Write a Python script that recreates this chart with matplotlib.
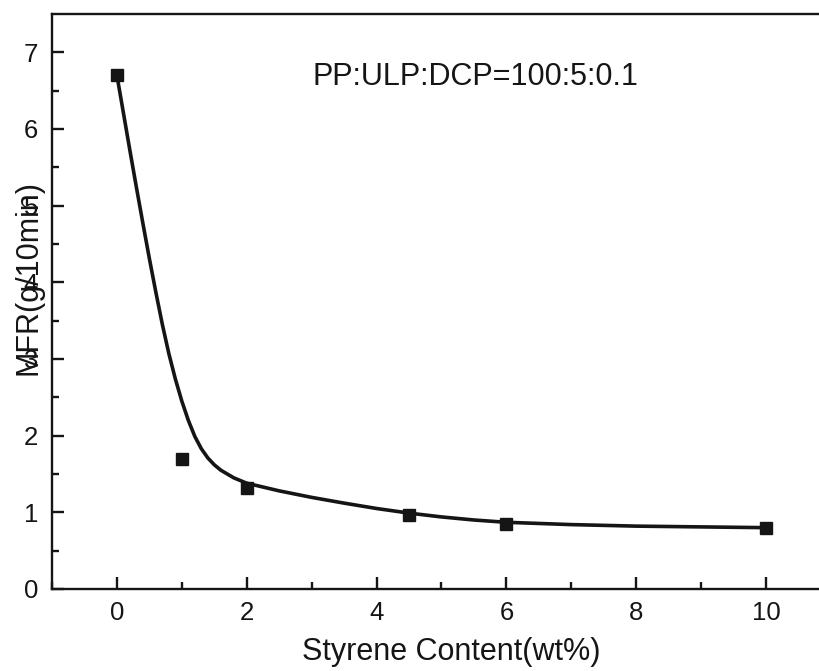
import matplotlib.pyplot as plt

plt.rcParams['font.family'] = ['Liberation Sans', 'DejaVu Sans']

# measured points
styrene = [0, 1, 2, 4.5, 6, 10]
mfr = [6.70, 1.70, 1.32, 0.97, 0.85, 0.80]

# fitted curve
fit_x = [0, 0.1, 0.2, 0.3, 0.4, 0.5, 0.6, 0.7, 0.8, 0.9, 1.0, 1.1, 1.2, 1.3,
         1.4, 1.5, 1.6, 1.8, 2.0, 2.5, 3.0, 3.5, 4.0, 4.5, 5.0, 5.5, 6.0,
         7.0, 8.0, 9.0, 10.0]
fit_y = [6.70, 6.21, 5.72, 5.24, 4.77, 4.31, 3.87, 3.45, 3.07, 2.74, 2.45,
         2.20, 1.99, 1.83, 1.71, 1.62, 1.55, 1.45, 1.38, 1.28, 1.195, 1.12,
         1.05, 0.99, 0.94, 0.90, 0.87, 0.84, 0.82, 0.81, 0.80]

xticks = [0, 2, 4, 6, 8, 10]
yticks = [0, 1, 2, 3, 4, 5, 6, 7]

ink = '#151515'

fig = plt.figure(figsize=(8.2, 6.71), dpi=100)
ax = fig.add_axes([52 / 820, 82 / 671, 779 / 820, 575 / 671])

ax.plot(fit_x, fit_y, color=ink, lw=2.6, zorder=2)
ax.plot(styrene, mfr, 's', color=ink, ms=9, zorder=3)

ax.set_xlim(-1, 11)
ax.set_ylim(0, 7.5)
ax.set_xticks(xticks)
ax.set_yticks(yticks)
ax.set_xticks([-1, 1, 3, 5, 7, 9], minor=True)
ax.set_yticks([0.5, 1.5, 2.5, 3.5, 4.5, 5.5, 6.5], minor=True)

ax.tick_params(which='both', direction='in', color=ink, width=1.7,
               labelsize=18.5, labelcolor=ink)
ax.tick_params(which='major', length=8.6)
ax.tick_params(which='minor', length=5)
ax.tick_params(axis='y', pad=10)
ax.tick_params(axis='x', pad=9)

for side in ['left', 'bottom', 'top']:
    ax.spines[side].set_linewidth(1.7)
    ax.spines[side].set_color(ink)
ax.spines['right'].set_visible(False)

ax.set_xlabel('Styrene Content(wt%)', fontsize=22, color=ink, va='center')
ax.xaxis.set_label_coords(0.512, -0.1096)
ax.set_ylabel('MFR(g/10min)', fontsize=22, color=ink, va='center', ha='center')
ax.yaxis.set_label_coords(-0.0308, 0.541)

ax.text(0.543, 0.89, 'PP:ULP:DCP=100:5:0.1', transform=ax.transAxes,
        fontsize=22, color=ink, ha='center', va='center')

fig.savefig('out.png', dpi=100)
